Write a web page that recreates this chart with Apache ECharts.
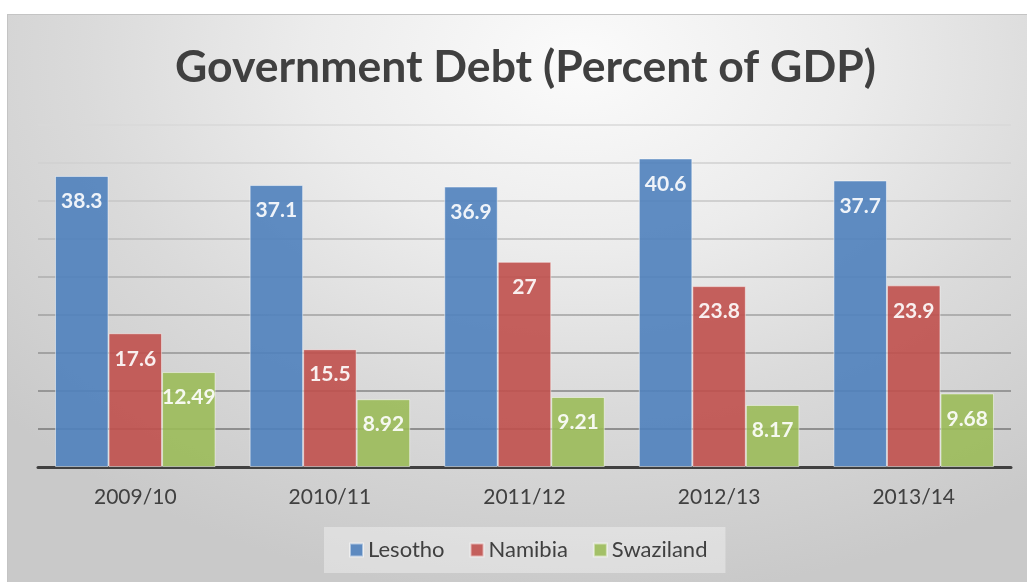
<!DOCTYPE html>
<html>
<head>
<meta charset="utf-8">
<script src="https://cdn.jsdelivr.net/npm/echarts@6/dist/echarts.min.js"></script>
<style>
  html, body { margin: 0; padding: 0; background: #ffffff; }
  #bg {
    position: absolute; left: 7px; top: 14px; width: 1020px; height: 568px;
    background: radial-gradient(ellipse 75% 95% at 56% 8%, #fbfbfb 0%, #ececec 35%, #dadada 65%, #c9c9c9 100%);
    border-top: 1px solid #c4c4c4; border-left: 1px solid #c4c4c4;
    box-sizing: border-box;
  }
  #chart { position: absolute; left: 0; top: 0; width: 1027px; height: 582px; }
</style>
</head>
<body>
<div id="bg"></div>
<div id="chart"></div>
<script>
// Fiscal years shown on the category axis
const years = ['2009/10', '2010/11', '2011/12', '2012/13', '2013/14'];
// Government debt as percent of GDP
const lesotho = [38.3, 37.1, 36.9, 40.6, 37.7];
const namibia = [17.6, 15.5, 27, 23.8, 23.9];
const swaziland = [12.49, 8.92, 9.21, 8.17, 9.68];

const FONT = 'Lato';

// Horizontal gridlines fade out toward the top of the plot
const gridColors = ['#5a5a5a', '#777777', '#858585', '#939393', '#a1a1a1',
                    '#aeaeae', '#bbbbbb', '#c6c6c6', '#d0d0d0', '#d8d8d8'];

function barSeries(name, data, color) {
  return {
    name: name,
    type: 'bar',
    data: data,
    barGap: '0%',
    barCategoryGap: '17.5%',
    itemStyle: {
      color: color,
      opacity: 0.9,
      borderColor: 'rgba(255,255,255,0.55)',
      borderWidth: 1
    },
    label: {
      show: true,
      position: 'insideTop',
      distance: 15,
      color: '#ffffff',
      fontFamily: FONT,
      fontWeight: 'bold',
      fontSize: 21
    }
  };
}

const chart = echarts.init(document.getElementById('chart'));
chart.setOption({
  backgroundColor: 'transparent',
  animation: false,
  title: {
    text: 'Government Debt (Percent of GDP)',
    left: 170,
    top: 40,
    textStyle: {
      fontFamily: FONT,
      fontWeight: 'bold',
      fontSize: 44.5,
      color: '#404040'
    }
  },
  legend: {
    bottom: 9,
    left: 324,
    itemWidth: 13,
    itemHeight: 13,
    itemGap: 25,
    padding: [12, 18, 12, 25],
    backgroundColor: 'rgba(245,245,245,0.45)',
    icon: 'rect',
    textStyle: { fontFamily: FONT, fontSize: 22, color: '#404040' },
    data: ['Lesotho', 'Namibia', 'Swaziland']
  },
  grid: { left: 38, right: 16, top: 125, bottom: 115, containLabel: false },
  xAxis: {
    type: 'category',
    data: years,
    axisLine: { lineStyle: { color: '#404040', width: 3 } },
    axisTick: { show: false },
    axisLabel: { fontFamily: FONT, fontSize: 21, color: '#404040', margin: 20 }
  },
  yAxis: {
    type: 'value',
    min: 0,
    max: 45,
    interval: 5,
    axisLine: { show: false },
    axisTick: { show: false },
    axisLabel: { show: false },
    splitLine: { lineStyle: { color: gridColors, width: 1.5 } }
  },
  series: [
    barSeries('Lesotho', lesotho, '#4F81BD'),
    barSeries('Namibia', namibia, '#C0504D'),
    barSeries('Swaziland', swaziland, '#9BBB59')
  ]
});
</script>
</body>
</html>
